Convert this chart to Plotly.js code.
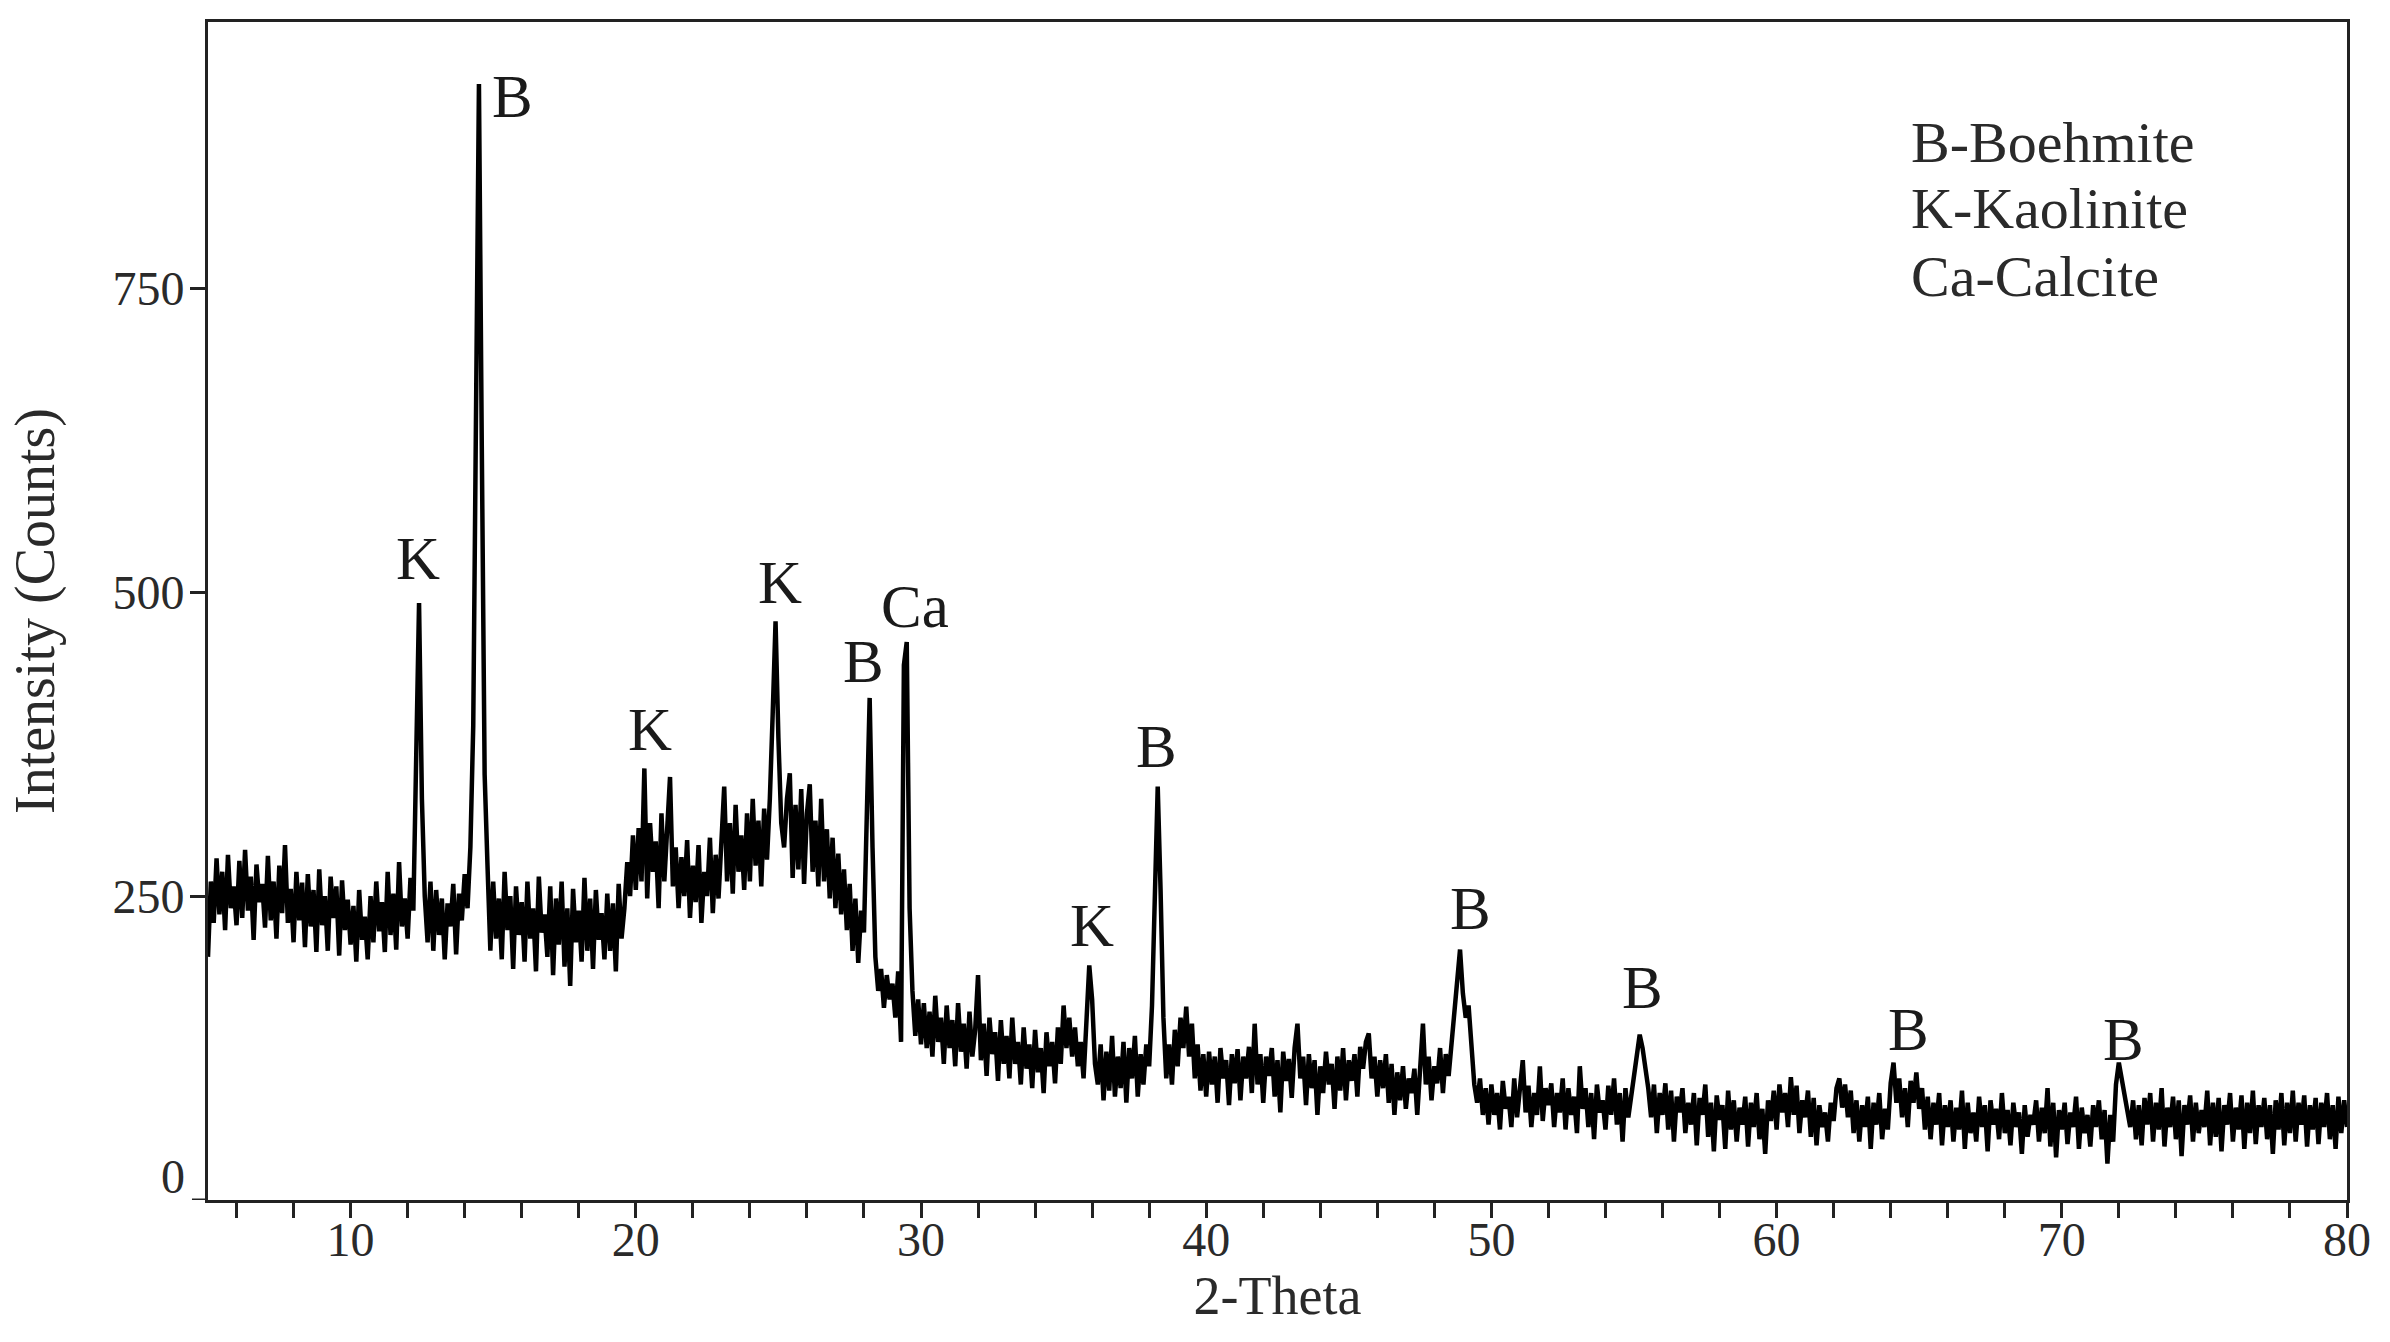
<!DOCTYPE html>
<html>
<head>
<meta charset="utf-8">
<script src="https://cdn.plot.ly/plotly-3.0.1.min.js"></script>
<style>
  html, body { margin: 0; padding: 0; background: #fff; }
  #chart { width: 2390px; height: 1342px; }
</style>
</head>
<body>
<div id="chart"></div>
<script>
// 2-Theta grid: start and step of the measured pattern
const twoThetaStart = 5;
const twoThetaStep = 0.1;

// Intensity (Counts), one row per degree (x.0 ... x.9)
const intensity = [
  200, 262, 228, 281, 235, 270, 222, 284, 240, 258, // 5
  226, 279, 232, 288, 238, 266, 214, 276, 245, 260, // 6
  224, 283, 230, 262, 215, 275, 236, 292, 228, 256, // 7
  212, 270, 230, 261, 208, 268, 225, 255, 204, 272, // 8
  226, 250, 205, 266, 232, 258, 201, 263, 222, 247, // 9
  210, 242, 196, 255, 214, 233, 198, 250, 212, 262, // 10
  221, 245, 204, 270, 218, 252, 206, 278, 225, 248, // 11
  215, 265, 238, 380, 491, 330, 250, 212, 262, 205, // 12
  255, 218, 248, 198, 244, 225, 260, 202, 252, 230, // 13
  268, 240, 290, 390, 700, 918, 620, 350, 275, 205, // 14
  262, 215, 248, 198, 270, 222, 250, 190, 258, 218, // 15
  245, 196, 262, 215, 240, 188, 266, 220, 235, 200, // 16
  258, 185, 248, 210, 262, 192, 240, 176, 256, 212, // 17
  238, 196, 265, 205, 248, 190, 255, 214, 236, 198, // 18
  252, 205, 244, 188, 260, 215, 240, 278, 250, 300, // 19
  255, 306, 262, 355, 248, 310, 270, 295, 240, 318, // 20
  262, 300, 348, 258, 290, 240, 282, 250, 296, 232, // 21
  275, 245, 292, 228, 270, 250, 298, 236, 284, 248, // 22
  300, 340, 262, 310, 252, 325, 270, 300, 255, 318, // 23
  262, 330, 275, 312, 258, 322, 280, 330, 400, 476, // 24
  380, 310, 290, 330, 351, 265, 325, 272, 338, 260, // 25
  318, 342, 270, 312, 258, 330, 262, 305, 248, 298, // 26
  240, 285, 235, 272, 222, 260, 205, 248, 195, 238, // 27
  220, 330, 413, 290, 200, 172, 190, 158, 185, 165, // 28
  178, 150, 188, 130, 440, 459, 240, 172, 135, 165, // 29
  128, 162, 125, 155, 118, 168, 130, 150, 112, 160, // 30
  125, 148, 110, 162, 122, 145, 108, 155, 118, 140, // 31
  185, 115, 145, 102, 150, 120, 138,  98, 148, 112, // 32
  135, 100, 150, 112, 130,  95, 142, 108, 128,  92, // 33
  140, 105, 125,  88, 138, 110, 130,  96, 142, 112, // 34
  160, 125, 150, 118, 142, 110, 130, 100, 150, 193, // 35
  165, 112,  95, 128,  82, 122,  90, 135,  85, 118, // 36
   92, 130,  80, 125, 100, 135,  85, 120,  95, 128, // 37
  110, 160, 250, 340, 255, 150, 100, 128,  95, 140, // 38
  110, 150, 125, 159, 118, 145, 100, 128,  90, 120, // 39
   85, 122,  95, 118,  80, 125, 100, 115,  78, 120, // 40
   96, 124,  82, 118, 100, 126,  88, 145,  95, 120, // 41
   80, 118, 102, 125,  85, 115,  72, 122,  98, 116, // 42
   84, 125, 145, 100, 118,  78, 120,  92, 115,  70, // 43
  110,  88, 122,  95, 112,  75, 118,  90, 125,  82, // 44
  115,  98, 120,  85, 126, 108, 130, 137, 100, 118, // 45
   85, 115,  92, 120,  80, 112,  70, 105,  82, 110, // 46
   75, 100,  88, 108,  70, 115, 145,  95, 118,  82, // 47
  110,  96, 125,  88, 120, 102, 130, 160, 185, 206, // 48
  170, 150, 160, 120,  95,  80, 100,  70,  92,  62, // 49
   95,  70,  88,  58,  98,  75,  85,  60, 100,  68, // 50
   90, 115,  72,  94,  60,  88,  70, 110,  65,  92, // 51
   78,  96,  60,  88,  72, 100,  58,  92,  70,  85, // 52
   55, 110,  75,  92,  60,  88,  50,  95,  72,  82, // 53
   58,  94,  70, 100,  62,  88,  48,  92,  68,  84, // 54
  100, 115, 136, 125, 110,  92,  68,  95,  55,  88, // 55
   70,  96,  58,  90,  48,  85,  72,  92,  55,  80, // 56
   62,  88,  45,  84,  70,  95,  52,  80,  40,  86, // 57
   66,  78,  42,  90,  58,  82,  48,  76,  62,  85, // 58
   44,  80,  60,  88,  50,  75,  38,  82,  65,  90, // 59
   58,  95,  72,  88,  60, 101,  70,  94,  55,  82, // 60
   68,  90,  52,  84,  45,  78,  60,  72,  48,  80, // 61
   65,  92, 100,  76,  95,  68,  90,  55,  82,  48, // 62
   78,  60,  85,  42,  80,  62,  88,  50,  75,  58, // 63
   96, 113,  80, 100,  68,  92,  60,  98,  80, 105, // 64
   75,  92,  58,  85,  50,  80,  62,  88,  45,  78, // 65
   60,  82,  48,  76,  58,  90,  42,  80,  55,  72, // 66
   48,  85,  60,  78,  40,  82,  62,  75,  50,  88, // 67
   55,  74,  45,  80,  60,  72,  38,  78,  52,  70, // 68
   62,  82,  48,  76,  55,  92,  44,  80,  35,  74, // 69
   58,  80,  46,  72,  60,  85,  42,  76,  55,  70, // 70
   44,  78,  60,  82,  50,  74,  30,  70,  48,  95, // 71
  113, 100,  85,  72,  60,  82,  50,  78,  45,  84, // 72
   62,  88,  48,  80,  58,  92,  44,  76,  60,  85, // 73
   50,  82,  36,  78,  62,  86,  48,  80,  55,  74, // 74
   60,  90,  45,  80,  52,  84,  40,  78,  62,  88, // 75
   48,  76,  58,  86,  42,  80,  55,  90,  46,  78, // 76
   60,  84,  50,  78,  38,  82,  58,  88,  45,  80, // 77
   55,  90,  48,  80,  62,  86,  44,  78,  58,  84, // 78
   46,  80,  60,  88,  50,  78,  42,  85,  55,  82, // 79
   60                                                // 80
];

// Phase labels placed above the peaks
const peakLabels = ['K', 'B', 'K', 'K', 'B', 'Ca', 'K', 'B', 'B', 'B', 'B', 'B'];
const peakLabelX = [12.36, 15.69, 20.5, 25.06, 28.0, 29.79, 36.0, 38.27, 49.25, 55.31, 64.61, 72.15];
const peakLabelY = [528, 908, 387, 508, 443, 488, 226, 373, 240, 175, 140, 132];

// Key text
const keyLines = ['B-Boehmite', 'K-Kaolinite', 'Ca-Calcite'];

// Axis ticks
const yTickVals = [250, 500, 750];
const xTickVals = [10, 20, 30, 40, 50, 60, 70, 80];

const FONT = 'Liberation Serif, Times New Roman, serif';
const INK = '#1a1a1a';

const annotations = [];
peakLabels.forEach((t, i) => {
  annotations.push({
    x: peakLabelX[i], y: peakLabelY[i], xref: 'x', yref: 'y',
    text: t, showarrow: false, xanchor: 'center', yanchor: 'middle',
    font: { family: FONT, size: 61, color: INK }
  });
});
const keyY = [0.898, 0.842, 0.784];
keyLines.forEach((t, i) => {
  annotations.push({
    x: 0.795, y: keyY[i], xref: 'paper', yref: 'paper',
    text: t, showarrow: false, xanchor: 'left', yanchor: 'middle',
    font: { family: FONT, size: 58, color: '#2a2a2a' }
  });
});
// the zero label sits just above the x axis line
annotations.push({
  x: -0.0096, y: 19, xref: 'paper', yref: 'y', text: '0', showarrow: false,
  xanchor: 'right', yanchor: 'middle', font: { family: FONT, size: 48, color: '#2a2a2a' }
});

const trace = {
  type: 'scatter', mode: 'lines',
  x0: twoThetaStart, dx: twoThetaStep, y: intensity,
  line: { color: '#000', width: 4.5 },
  hoverinfo: 'skip', showlegend: false
};

const layout = {
  width: 2390, height: 1342,
  margin: { l: 208, r: 43, t: 22, b: 142, pad: 0 },
  paper_bgcolor: '#fff', plot_bgcolor: '#fff',
  showlegend: false,
  font: { family: FONT, color: '#2a2a2a' },
  xaxis: {
    range: [5, 80], tickvals: xTickVals, ticktext: xTickVals.map(String),
    ticks: 'outside', ticklen: 15, tickwidth: 3, tickcolor: '#222',
    minor: { dtick: 2, tick0: 0, ticks: 'outside', ticklen: 15, tickwidth: 3, tickcolor: '#222', showgrid: false },
    showline: true, linecolor: '#222', linewidth: 3, mirror: true,
    showgrid: false, zeroline: false,
    ticklabelstandoff: -20,
    tickfont: { family: FONT, size: 48, color: '#2a2a2a' },
    title: { text: '2-Theta', font: { family: FONT, size: 54, color: '#2a2a2a' }, standoff: 4 }
  },
  yaxis: {
    range: [0, 969], tickvals: yTickVals, ticktext: yTickVals.map(String),
    ticks: 'outside', ticklen: 15, tickwidth: 3, tickcolor: '#222',
    showline: true, linecolor: '#222', linewidth: 3, mirror: true,
    showgrid: false, zeroline: false,
    ticklabelstandoff: -4,
    tickfont: { family: FONT, size: 48, color: '#2a2a2a' },
    title: { text: 'Intensity (Counts)', font: { family: FONT, size: 56, color: '#2a2a2a' }, standoff: 40 }
  },
  shapes: [{
    type: 'line', xref: 'paper', yref: 'y', x0: -0.0075, x1: 0, y0: 0, y1: 0,
    line: { color: '#222', width: 3 }
  }],
  annotations: annotations
};

Plotly.newPlot('chart', [trace], layout, { staticPlot: true, displayModeBar: false });
</script>
</body>
</html>
